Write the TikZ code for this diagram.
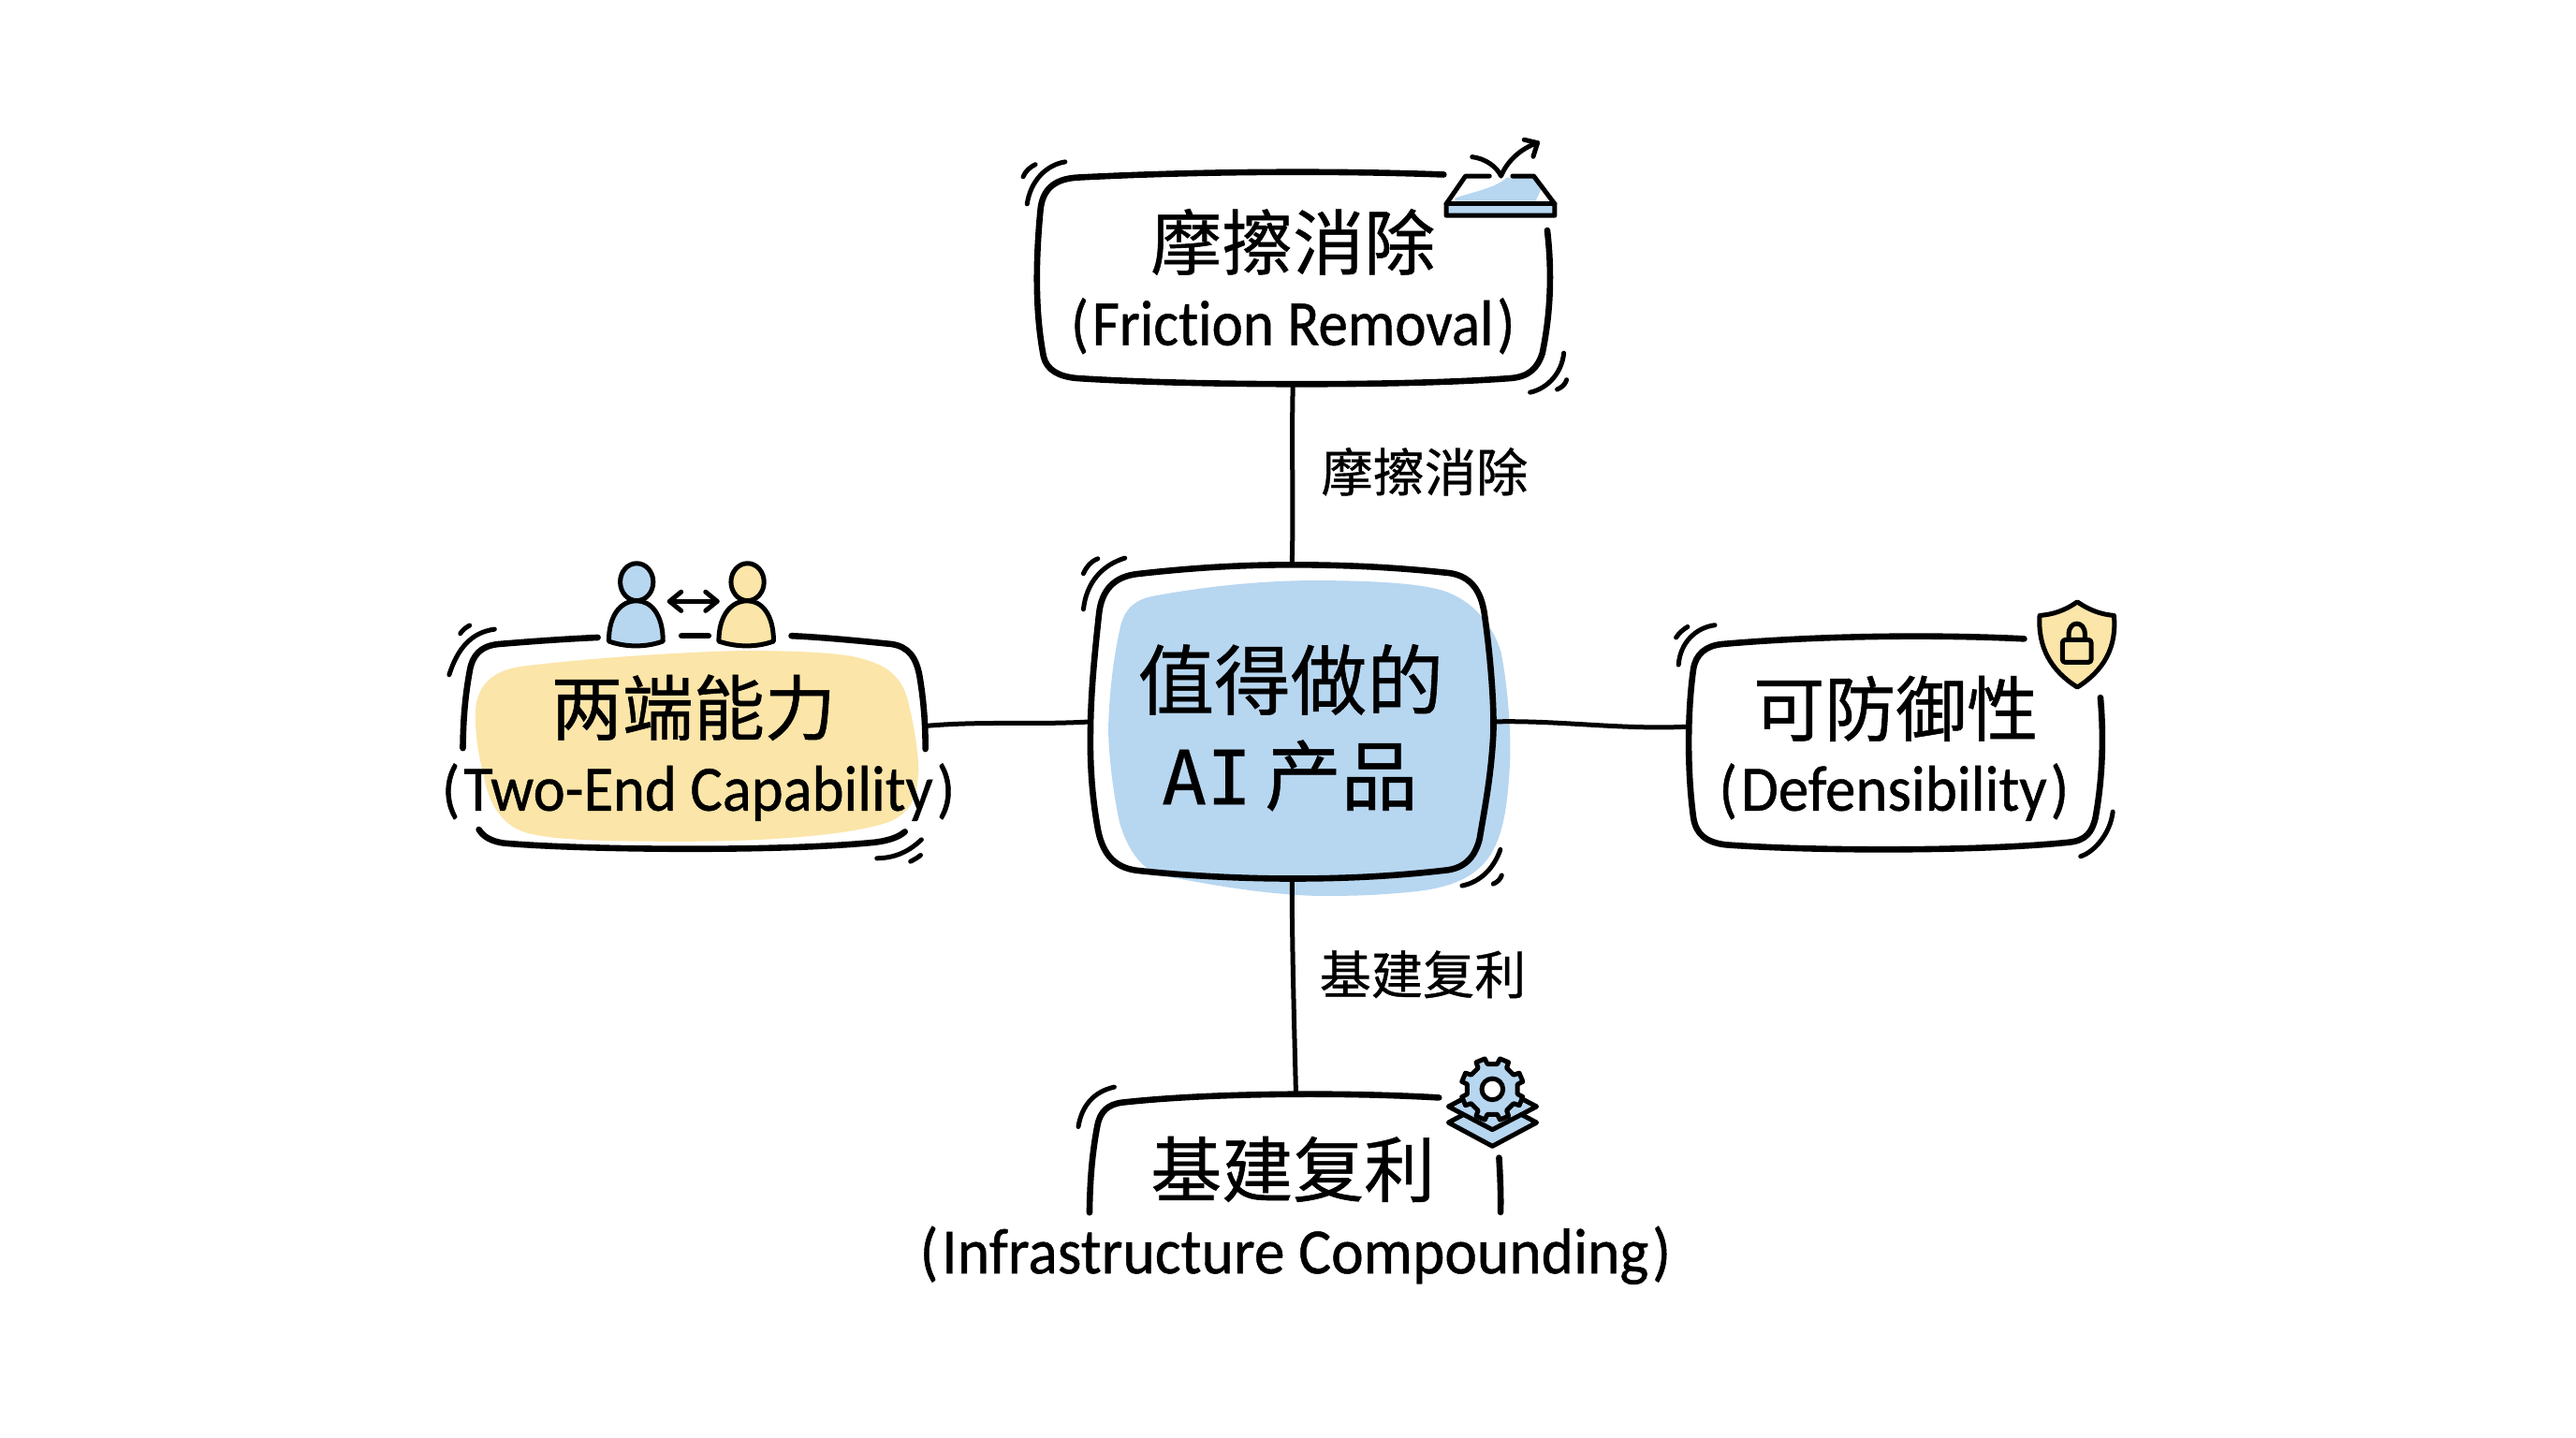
\documentclass[tikz,border=0pt]{standalone}
\usepackage{fontspec}
\usepackage{graphicx}
\newfontfamily\cjk[FakeBold=0.7]{Noto Sans CJK SC}
\newfontfamily\latn[Ligatures=NoCommon,FakeBold=0.7]{Carlito}
\newfontfamily\aimono[FakeBold=0.3]{DejaVu Sans Mono}
\definecolor{skyfill}{HTML}{B7D6F0}
\definecolor{sandfill}{HTML}{FBE5A8}
\newlength{\uu}\setlength{\uu}{0.88205pt}
\newcommand{\subtxt}[2]{\resizebox{#1\uu}{28.6\uu}{\fontsize{30}{30}\latn (\kern.06em #2\kern.06em)}}
\tikzset{
  x=0.88205pt,y=-0.88205pt,
  ink/.style={draw=black,line width=3.3pt,line cap=round,line join=round},
  thinink/.style={draw=black,line width=2.5pt,line cap=round,line join=round},
  wire/.style={draw=black,line width=2.5pt,line cap=round},
  hold/.style={inner sep=0pt,outer sep=0pt,minimum width=#1,shape=rectangle},
  ttl/.style={inner sep=0pt,anchor=center,font=\cjk\fontsize{38}{38}\selectfont},
  bigttl/.style={inner sep=0pt,anchor=center,font=\cjk\fontsize{40.8}{40.8}\selectfont},
  lab/.style={inner sep=0pt,anchor=center,font=\cjk\fontsize{27.6}{27.6}\selectfont},
  sublab/.style={inner sep=0pt,anchor=base},
}
\begin{document}
\begin{tikzpicture}
\useasboundingbox (0,0) rectangle (1560,870.7);
\fill[white] (0,0) rectangle (1560,870.7);

% layout holders (invisible, used by the connectors)
\node[hold=244\uu,minimum height=190\uu] (ctr) at (782.4,437) {};
\node[hold=312\uu,minimum height=128\uu] (top) at (783,168.6) {};
\node[hold=281\uu,minimum height=109\uu] (lft) at (420.5,439.5) {};
\node[hold=252\uu,minimum height=108\uu] (rgt) at (1148,440) {};
\node[hold=250\uu,minimum height=72\uu] (bot) at (784.8,698.3) {};

% blobs
\fill[skyfill] (795.6,351.5) .. controls (830,351.5) and (860,353) .. (875,358) .. controls (892,364) and (904,378) .. (909,395) .. controls (914,420) and (915,450) .. (914.5,460) .. controls (913,490) and (910,505) .. (903,517) .. controls (893,533) and (875,538) .. (855,540) .. controls (830,542.5) and (815,542.5) .. (795.6,542.4) .. controls (760,541) and (730,535) .. (703,530) .. controls (690,526) and (682,512) .. (678,498) .. controls (673,475) and (671,450) .. (671.2,440) .. controls (672,415) and (675,395) .. (678.4,380) .. controls (681,368) and (688,363) .. (698,361) .. controls (730,355) and (765,351.5) .. (795.6,351.5) -- cycle;
\fill[sandfill] (316,403.5) .. controls (360,398) and (420,394.5) .. (450,394) .. controls (480,394) and (500,395) .. (514,397) .. controls (535,401) and (546,408) .. (550,425) .. controls (555,445) and (557,465) .. (556,470) .. controls (555,485) and (550,492) .. (540,497) .. controls (520,505) and (470,509.5) .. (413,509.5) .. controls (370,509.5) and (335,509) .. (318,504) .. controls (303,499) and (296,486) .. (293,470) .. controls (289,455) and (287.5,440) .. (288,430) .. controls (289,415) and (298,406) .. (316,403.5) -- cycle;

% connectors
\draw[wire] (top.south) .. controls +(-1,35) and +(1,-35) .. (ctr.north);
\draw[wire] (ctr.south) .. controls +(0,40) and +(-1,-40) .. (bot.north);
\draw[wire] (lft.east) .. controls +(35,-3) and +(-35,2) .. (ctr.west);
\draw[wire] (ctr.east) .. controls +(40,-1) and +(-40,2) .. (rgt.west);

% centre box
\draw[ink] (782.4,342) .. controls (820,342) and (850,344) .. (878,347) .. controls (891,349) and (897,358) .. (899,372) .. controls (903,400) and (905,430) .. (904.3,445) .. controls (903,470) and (899,490) .. (896,508) .. controls (893,520) and (886,526) .. (875,527) .. controls (840,531) and (810,532) .. (782,532) .. controls (750,532) and (715,530) .. (688,527) .. controls (674,525) and (667,516) .. (664.5,500) .. controls (661,480) and (660,460) .. (660.4,442) .. controls (660.5,420) and (663,395) .. (665.5,372) .. controls (667,357) and (675,349) .. (689,347.5) .. controls (720,344) and (750,342) .. (782.4,342) -- cycle;
\draw[thinink] (681.2,337.9) .. controls (668,342) and (658,352) .. (656.1,368.9);
\draw[thinink] (664.8,338.3) .. controls (660.5,340) and (658,343) .. (656.1,347.3);
\draw[thinink] (908.6,514.4) .. controls (905,525) and (897,534) .. (885.4,536.3);
\draw[thinink] (909.4,530) .. controls (908.5,532.5) and (907,534) .. (904.3,535.2);

% top box
\draw[ink] (874.3,105.7) .. controls (800,103) and (720,104) .. (652,107.5) .. controls (638,108.5) and (631,115) .. (630,128) .. controls (627,160) and (627,190) .. (632,216) .. controls (634,224) and (641,228) .. (652,229) .. controls (720,233.5) and (850,234) .. (915,229) .. controls (926,228) and (931,223) .. (934,214) .. controls (939,190) and (940,165) .. (937,139.5);
\draw[thinink] (645,98) .. controls (633,100) and (624,110) .. (622,123.5);
\draw[thinink] (627,99.6) .. controls (624,101) and (621,103.5) .. (619.6,107);
\draw[thinink] (947,213.8) .. controls (946,225) and (938,235) .. (926.6,237.6);
\draw[thinink] (948.7,230) .. controls (948,232.5) and (946,234.5) .. (943,235.8);

% top icon
\begin{scope}[xshift=-2.2pt]
\fill[skyfill] (878.3,123.5) rectangle (944,130.5);
\fill[skyfill] (883.6,120) .. controls (895,116) and (908,114) .. (915,107.5) -- (931,107.5) -- (936,114) -- (932.5,121.6) -- (883.6,121.6) -- cycle;
\draw[thinink] (904.5,106.6) -- (890,106.6) -- (878.3,123.5) -- (878.3,130.5) -- (944,130.5) -- (944,123.5) -- (931.3,106.6) -- (918.5,106.6);
\draw[thinink] (878.3,123.5) -- (944,123.5);
\draw[thinink] (894,95) .. controls (902,96) and (909,101) .. (911.5,106.6) .. controls (915,98) and (923,90) .. (933.6,86.5);
\draw[thinink] (925.5,84.6) -- (933.6,86.5) -- (931,94.8);
\end{scope}

% left box
\draw[ink] (362,386) .. controls (340,387) and (320,388.5) .. (302,390) .. controls (291,391) and (286,397) .. (284.5,406) .. controls (281,425) and (280.5,440) .. (280.3,453);
\draw[ink] (412.8,385) -- (429,385);
\draw[ink] (479.3,385) .. controls (500,386) and (520,388) .. (540,390) .. controls (550,391.5) and (555,398) .. (557,410) .. controls (559.5,425) and (560.5,440) .. (560.4,453.5);
\draw[ink] (290,502.3) .. controls (293,507) and (298,509.5) .. (305,510.5) .. controls (350,514.5) and (470,516) .. (530,510) .. controls (538,509) and (544,507) .. (548,503.6);
\draw[thinink] (299.5,381) .. controls (285,383) and (277,393) .. (272,408.6);
\draw[thinink] (284.4,378.7) .. controls (282,380) and (280,381.5) .. (278.8,383.6);
\draw[thinink] (558,508.4) .. controls (551,515) and (543,519.5) .. (531,519.7);
\draw[thinink] (557.5,517.8) .. controls (555.5,519.5) and (553.5,520.5) .. (551.4,521.6);

% persons
\begin{scope}[xshift=-1.6pt]
\draw[thinink,fill=skyfill] (387.4,352.4) ellipse (10 and 11.3);
\draw[thinink,fill=skyfill] (370.5,388.3) .. controls (370.5,372) and (378,363.8) .. (387.4,363.8) .. controls (396,363.8) and (403.3,372) .. (403.3,388.3) .. controls (393,392) and (381,392) .. (370.5,388.3) -- cycle;
\draw[thinink,fill=sandfill] (454.5,352.4) ellipse (10 and 11.3);
\draw[thinink,fill=sandfill] (437.1,388.3) .. controls (437.1,372) and (445,363.8) .. (454.5,363.8) .. controls (463,363.8) and (470.3,372) .. (470.3,388.3) .. controls (460,392) and (448,392) .. (437.1,388.3) -- cycle;
\end{scope}
\draw[thinink] (405.5,364.1) -- (434.3,364.1);
\draw[thinink] (412.5,358.4) -- (405.5,364.1) -- (412.5,369.8);
\draw[thinink] (427.3,358.4) -- (434.3,364.1) -- (427.3,369.8);

% right box
\draw[ink] (1225.8,386.8) .. controls (1170,384) and (1100,385) .. (1043,390) .. controls (1033,391) and (1027,396) .. (1025.5,405) .. controls (1022,430) and (1021.5,465) .. (1025.5,495) .. controls (1027,505) and (1033,510) .. (1045,511.5) .. controls (1100,515.5) and (1200,515.5) .. (1253,510) .. controls (1263,509) and (1267,504) .. (1269,495) .. controls (1273.5,470) and (1274,445) .. (1272,422.4);
\draw[thinink] (1038.5,378.5) .. controls (1027,380) and (1017.5,389) .. (1016.5,402.5);
\draw[thinink] (1022,379.5) .. controls (1019.5,381) and (1017,383) .. (1015,386);
\draw[thinink] (1279.5,491.5) .. controls (1278,505) and (1268,516) .. (1260,518.5);

% shield
\draw[thinink,fill=sandfill] (1258,364.4) .. controls (1250,370) and (1243,372) .. (1235.2,372.7) .. controls (1234,392) and (1242,406) .. (1258,416.1) .. controls (1274,406) and (1282,392) .. (1280.2,372.7) .. controls (1273,372) and (1266,370) .. (1258,364.4) -- cycle;
\draw[thinink] (1252.8,387.4) -- (1252.8,384) .. controls (1252.8,375.5) and (1262.6,375.5) .. (1262.6,384) -- (1262.6,387.4);
\draw[thinink,rounded corners=1.5pt] (1249,387.4) rectangle (1266.4,401);

% bottom box
\draw[ink] (871.4,664.6) .. controls (810,661) and (730,662) .. (680,667.5) .. controls (671,668.5) and (666,673) .. (664.5,682) .. controls (661,700) and (660,718) .. (659.8,734.2);
\draw[thinink] (674.8,658.2) .. controls (662,661) and (655,670) .. (653,682.2);
\draw[ink] (907.8,701) .. controls (908.5,712) and (909,724) .. (908.7,734);

% layers + gear
\begin{scope}[xshift=-1.8pt]
\draw[thinink,fill=skyfill] (879.2,679.7) -- (905.8,694) -- (932.6,679.7) -- (905.8,665.5) -- cycle;
\draw[thinink,fill=skyfill] (879.2,670) -- (905.8,684) -- (932.6,670) -- (905.8,656) -- cycle;
\begin{scope}[shift={(905.8,659.5)}]
\draw[thinink,fill=skyfill] (11:15.5) \foreach \a in {0,45,...,315} {
   -- (\a+11:15.5) -- (\a+14:19) -- (\a+31:19) -- (\a+34:15.5)
   } -- cycle;
\draw[thinink,fill=white] (0,0) circle (6.4);
\end{scope}
\end{scope}

% texts
\node[ttl] (t1) at (783,146.5) {摩擦消除};
\node[sublab] (t2) at (783,209) {\subtxt{269}{Friction Removal}};
\node[ttl] (l1) at (420,428.4) {两端能力};
\node[sublab] (l2) at (423,490.8) {\subtxt{311}{Two-End Capability}};
\node[ttl] (r1) at (1148,429) {可防御性};
\node[sublab] (r2) at (1147,490.8) {\subtxt{212}{Defensibility}};
\node[ttl] (b1) at (783,708) {基建复利};
\node[sublab] (b2) at (784.5,771) {\subtxt{455}{Infrastructure Compounding}};
\node[bigttl] (c1) at (781.6,411.5) {值得做的};
\node[bigttl] (c2) at (781,469.6) {{\aimono\fontsize{40}{40}\selectfont AI}\hspace{7pt}产品};
\node[lab] (e1) at (862.7,285.6) {摩擦消除};
\node[lab] (e2) at (861.7,590) {基建复利};
\end{tikzpicture}
\end{document}
